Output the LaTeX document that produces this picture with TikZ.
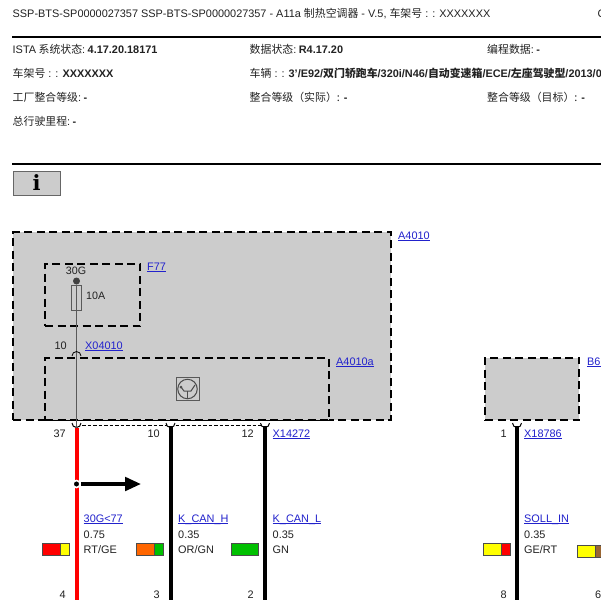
\documentclass[tikz,border=0pt]{standalone}
\usepackage{fontspec}
\setmainfont{Liberation Sans}
\newfontfamily\cjk{Noto Sans CJK SC}
\newfontfamily\infofont{DejaVu Serif}
\newcommand{\zh}[1]{{\cjk #1}}
\newcommand{\lnktext}[1]{\underline{\smash{#1}}}
\usetikzlibrary{positioning, arrows.meta}

\definecolor{panelgray}{HTML}{CCCCCC}
\definecolor{linkblue}{HTML}{2222CC}
\definecolor{inkgray}{HTML}{222222}
\definecolor{wirered}{HTML}{FF0000}
\definecolor{orwire}{HTML}{FF6600}
\definecolor{gnwire}{HTML}{00C000}
\definecolor{gewire}{HTML}{FFFF00}
\definecolor{brwire}{HTML}{996633}

\tikzset{
  txt/.style={anchor=base west, inner sep=0pt, text=inkgray, font=\fontsize{10.9}{13}\selectfont},
  pinno/.style={anchor=base east, inner sep=0pt, text=inkgray, font=\fontsize{10.9}{13}\selectfont},
  lnk/.style={txt, text=linkblue},
  modbox/.style={draw=black, fill=panelgray, line width=2pt, dash pattern=on 8pt off 4.5pt, anchor=north west, inner sep=0pt, outer sep=0pt},
  swatch/.style={draw=black!70, line width=0.8pt, minimum height=12.5pt, inner sep=0pt, outer sep=0pt, anchor=west},
  wire/.style={line width=4pt},
  pinarc/.style={draw=black, line width=1pt},
  rulebar/.style={line width=2pt}
}

\begin{document}
\begin{tikzpicture}[x=1pt, y=-1pt]
    \clip (0,0) rectangle (601,600);
    \fill[white] (0,0) rectangle (601,600);

    % page head
    \node[txt] (head) at (12.5,17.5) {SSP-BTS-SP0000027357 SSP-BTS-SP0000027357 - A11a \zh{制热空调器} - V.5, \zh{车架号} : : XXXXXXX};
    \node[txt] (headend) at (597.5,17.5) {C};
    \coordinate (ruleAl) at (12,37);
    \coordinate (ruleAr) at (601,37);
    \coordinate (ruleBl) at (12,164);
    \coordinate (ruleBr) at (601,164);
    \draw[rulebar] (ruleAl) -- (ruleAr);
    \draw[rulebar] (ruleBl) -- (ruleBr);

    % vehicle data
    \node[txt] (ista) at (12.5,53) {ISTA\hspace{2.5pt}\zh{系统状态}:\hspace{2.5pt}\textbf{4.17.20.18171}};
    \node[txt] (data) at (249.5,53) {\zh{数据状态}:\hspace{2.5pt}\textbf{R4.17.20}};
    \node[txt] (prog) at (487,53) {\zh{编程数据}:\hspace{2.5pt}\textbf{-}};
    \node[txt] (vin) at (12.5,77) {\zh{车架号} : : \textbf{XXXXXXX}};
    \node[txt] (car) at (249.5,77) {\zh{车辆} : : \textbf{3'/E92/{\cjk\bfseries 双门轿跑车}/320i/N46/{\cjk\bfseries 自动变速箱}/ECE/{\cjk\bfseries 左座驾驶型}/2013/0}};
    \node[txt] (plant) at (12.5,101) {\zh{工厂整合等级}:\hspace{2.5pt}\textbf{-}};
    \node[txt] (actual) at (249.5,101) {\zh{整合等级（实际）:} \textbf{-}};
    \node[txt] (target) at (487,101) {\zh{整合等级（目标）:} \textbf{-}};
    \node[txt] (mile) at (12.5,125) {\zh{总行驶里程}:\hspace{2.5pt}\textbf{-}};

    % info key
    \node[draw=black!60, fill=panelgray, line width=0.9pt, minimum width=47pt, minimum height=24pt, inner sep=0pt, font=\infofont\fontsize{21}{21}\bfseries\selectfont] (info) at (36.5,183) {i};

    % modules
    \node[modbox, minimum width=378pt, minimum height=188pt] (a4010) at (13,232) {};
    \node[modbox, minimum width=95pt, minimum height=62.5pt] (f77) at (45,263.5) {};
    \node[modbox, minimum width=284pt, minimum height=62pt] (a4010a) at (45,358) {};
    \node[modbox, minimum width=94pt, minimum height=62.5pt] (b6) at (485,357.5) {};

    \node[lnk] (la4010) at (398,239) {\lnktext{A4010}};
    \node[lnk] (lf77) at (147,270) {\lnktext{F77}};
    \node[lnk] (la4010a) at (336,365) {\lnktext{A4010a}};
    \node[lnk] (lb6) at (587,365) {\lnktext{B6}};

    % fuse
    \node[txt, anchor=base] (t30g) at (76,274) {\fontsize{10.7}{12}\selectfont 30G};
    \node[circle, fill=black!75, inner sep=0pt, minimum size=7pt] (feed) at (76.5,281) {};
    \node[draw=black!65, fill=panelgray, line width=0.8pt, minimum width=9.5pt, minimum height=25pt, inner sep=0pt] (fuse) at (76.5,297.5) {};
    \node[txt] (t10a) at (86,299) {\fontsize{10.7}{12}\selectfont 10A};
    \node[pinno] (p10top) at (67,349) {10};
    \node[lnk] (x04010) at (85,349) {\lnktext{X04010}};
    \coordinate (pin37) at (76.5,428);
    \draw[black!65, line width=0.9pt] (feed) -- (pin37);
    \draw[black, line width=0.8pt] (72,356) arc[start angle=180, end angle=0, radius=4.5pt];

    % sensor symbol
    \node[draw=black!65, line width=1pt, minimum size=23pt, inner sep=0pt] (symb) at (187.5,389) {};
    \node[draw=black!70, circle, line width=1pt, minimum size=19.5pt, inner sep=0pt] (symc) at (symb) {};
    \draw[black!70, line width=1pt] (181,387) -- (184,391) -- (191,391) -- (195,385);
    \draw[black!70, line width=1pt] (187.5,391) -- (187.5,398.5);
    \fill[black!70] (181,387) circle (1.5pt);

    % connector X14272
    \coordinate (hoodl) at (76.5,425.5);
    \coordinate (hoodr) at (265,425.5);
    \draw[black, line width=0.8pt, dash pattern=on 3.5pt off 2pt] (hoodl) -- (hoodr);

    % wires
    \coordinate (pin10) at (170.5,428);
    \coordinate (pin12) at (265,428);
    \coordinate (pin1) at (517,428);
    \coordinate (end37) at (76.5,600);
    \coordinate (end10) at (170.5,600);
    \coordinate (end12) at (265,600);
    \coordinate (end1) at (517,600);
    \draw[wire, wirered] (pin37) -- (end37);
    \draw[wire, black] (pin10) -- (end10);
    \draw[wire, black] (pin12) -- (end12);
    \draw[wire, black] (pin1) -- (end1);
    \draw[pinarc, fill=white] (72,423) arc[start angle=180, end angle=360, radius=4.5pt];
    \draw[pinarc, fill=white] (166,423) arc[start angle=180, end angle=360, radius=4.5pt];
    \draw[pinarc, fill=white] (260.5,423) arc[start angle=180, end angle=360, radius=4.5pt];
    \draw[pinarc, fill=white] (512.5,423) arc[start angle=180, end angle=360, radius=4.5pt];
    \draw[black!65, line width=0.9pt] (76.5,421) -- (pin37);
    \draw[wire, black] (170.5,426) -- (170.5,431);
    \draw[wire, black] (265,426) -- (265,431);
    \draw[wire, black] (517,426) -- (517,431);

    % splice and arrow
    \node[circle, fill=black, draw=white, line width=1.6pt, minimum size=7pt, inner sep=0pt] (splice) at (76.5,484) {};
    \coordinate (goes) at (141,484);
    \draw[black, line width=3.6pt, -{Triangle[length=16pt, width=13.5pt]}] (splice) -- (goes);

    % pin numbers
    \node[pinno] (n37) at (66,437) {37};
    \node[pinno] (n10) at (160,437) {10};
    \node[pinno] (n12) at (254,437) {12};
    \node[pinno] (n1) at (507,437) {1};
    \node[lnk] (x14272) at (272.5,437) {\lnktext{X14272}};
    \node[lnk] (x18786) at (524,437) {\lnktext{X18786}};
    \node[pinno] (n4) at (66,598) {4};
    \node[pinno] (n3) at (160,598) {3};
    \node[pinno] (n2) at (254,598) {2};
    \node[pinno] (n8) at (507,598) {8};
    \node[txt] (n6) at (595,598) {6};

    % wire data
    \node[lnk] (sig1) at (83.5,522) {\lnktext{30G<77}};
    \node[txt] (sz1) at (83.5,538) {0.75};
    \node[txt] (col1) at (83.5,553) {RT/GE};
    \node[lnk] (sig2) at (178,522) {\lnktext{K\_CAN\_H}};
    \node[txt] (sz2) at (178,538) {0.35};
    \node[txt] (col2) at (178,553) {OR/GN};
    \node[lnk] (sig3) at (272.5,522) {\lnktext{K\_CAN\_L}};
    \node[txt] (sz3) at (272.5,538) {0.35};
    \node[txt] (col3) at (272.5,553) {GN};
    \node[lnk] (sig4) at (524,522) {\lnktext{SOLL\_IN}};
    \node[txt] (sz4) at (524,538) {0.35};
    \node[txt] (col4) at (524,553) {GE/RT};

    % colour keys
    \node[swatch, fill=wirered, minimum width=18pt] (k1a) at (42,549.5) {};
    \node[swatch, fill=gewire, minimum width=9pt, right=0pt of k1a] (k1b) {};
    \node[swatch, fill=orwire, minimum width=18pt] (k2a) at (136.5,549.5) {};
    \node[swatch, fill=gnwire, minimum width=9pt, right=0pt of k2a] (k2b) {};
    \node[swatch, fill=gnwire, minimum width=27pt] (k3a) at (231,549.5) {};
    \node[swatch, fill=gewire, minimum width=18pt] (k4a) at (483,549.5) {};
    \node[swatch, fill=wirered, minimum width=9pt, right=0pt of k4a] (k4b) {};
    \node[swatch, fill=gewire, minimum width=18pt] (k5a) at (577.5,551.5) {};
    \node[swatch, fill=brwire, minimum width=9pt, right=0pt of k5a] (k5b) {};
\end{tikzpicture}
\end{document}
